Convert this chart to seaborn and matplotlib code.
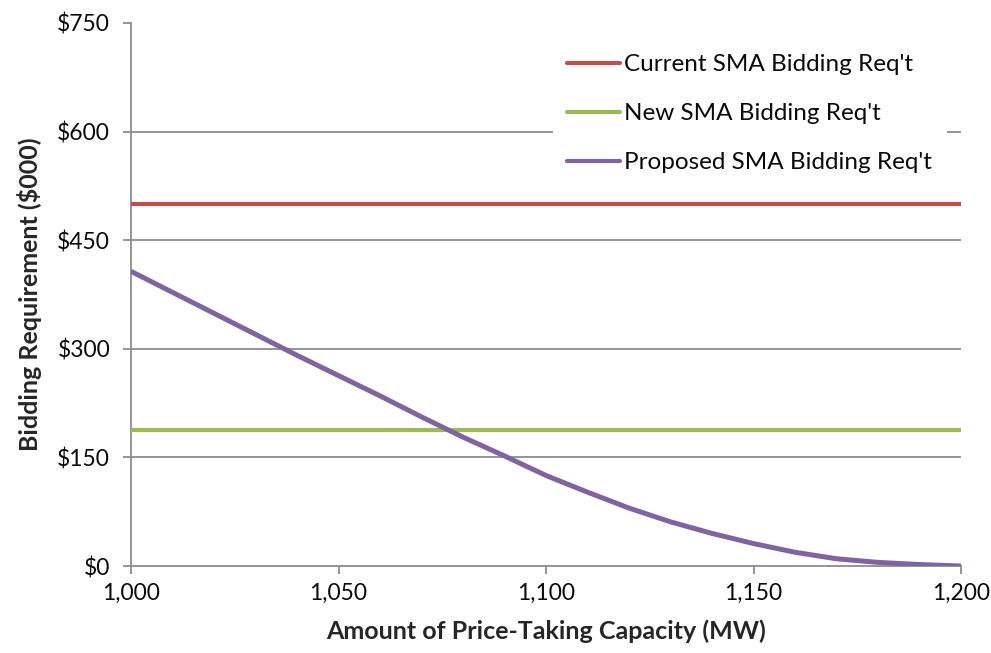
import matplotlib
matplotlib.use("Agg")
import matplotlib.pyplot as plt
import matplotlib.ticker as mticker
from matplotlib.patches import Rectangle
import seaborn as sns
import pandas as pd

# Price-taking capacity (MW) and bidding requirements ($000)
capacity = [1000, 1010, 1020, 1030, 1040, 1050, 1060, 1070, 1080, 1090, 1100,
            1110, 1120, 1130, 1140, 1150, 1160, 1170, 1180, 1190, 1200]
proposed_req = [407, 378, 349, 320, 291, 263, 235, 206, 178, 152, 125,
                102, 80, 61, 45, 31, 19, 10, 5, 2, 0]
current_req = 500
new_req = 188

series_names = ["Current SMA Bidding Req't", "New SMA Bidding Req't", "Proposed SMA Bidding Req't"]
series_colors = ["#C0504D", "#9BBB59", "#8064A2"]

x_ticks = [1000, 1050, 1100, 1150, 1200]
y_ticks = [0, 150, 300, 450, 600, 750]

df = pd.concat([
    pd.DataFrame({"capacity": capacity, "value": [current_req] * len(capacity), "series": series_names[0]}),
    pd.DataFrame({"capacity": capacity, "value": [new_req] * len(capacity), "series": series_names[1]}),
    pd.DataFrame({"capacity": capacity, "value": proposed_req, "series": series_names[2]}),
])

sns.set_style("white")
plt.rcParams["font.family"] = ["Lato", "DejaVu Sans"]

W, H = 991, 653
fig = plt.figure(figsize=(W / 100, H / 100), dpi=100)
ax = fig.add_axes([131 / W, 1 - 566 / H, 830 / W, 543 / H])

grid_c = "#8C8C8C"
for y in y_ticks[1:-1]:
    ax.axhline(y, color=grid_c, lw=1.3, zorder=0)

sns.lineplot(data=df, x="capacity", y="value", hue="series", hue_order=series_names,
             palette=series_colors, ax=ax, legend=False, zorder=3)
widths = [3.0, 3.0, 3.6]
for line, w in zip(ax.get_lines()[-3:], widths):
    line.set_linewidth(w)
    line.set_solid_capstyle("butt")

ax.set_xlim(1000, 1200)
ax.set_ylim(0, 750)
ax.set_xticks(x_ticks)
ax.set_yticks(y_ticks)
ax.xaxis.set_major_formatter(mticker.FuncFormatter(lambda v, p: f"{v:,.0f}"))
ax.yaxis.set_major_formatter(mticker.FuncFormatter(lambda v, p: f"${v:,.0f}"))

for s in ["top", "right"]:
    ax.spines[s].set_visible(False)
for s in ["left", "bottom"]:
    ax.spines[s].set_color(grid_c)
    ax.spines[s].set_linewidth(1.3)

ax.tick_params(axis="both", which="major", direction="out", length=6, width=1.3,
               color=grid_c, labelsize=16.5, labelcolor="#0A0A0A")
ax.tick_params(axis="x", bottom=True, pad=6)
ax.tick_params(axis="y", left=True, pad=9)

ax.set_xlabel("Amount of Price-Taking Capacity (MW)", fontsize=18, fontweight="bold")
ax.set_ylabel("Bidding Requirement ($000)", fontsize=18, fontweight="bold")
ax.xaxis.set_label_coords(0.5, -0.098)
ax.yaxis.set_label_coords(-0.107, 0.5)

# white panel behind the legend, hiding the gridline it overlaps
ax.add_patch(Rectangle((553 / W, 1 - 188 / H), 394 / W, 150 / H, transform=fig.transFigure,
                       facecolor="white", edgecolor="none", zorder=4, clip_on=False))

handles = [plt.Line2D([], [], color=c, lw=3.0) for c in series_colors]
leg = ax.legend(handles, series_names, loc="upper left",
                bbox_to_anchor=(553 / W, 1 - 40 / H), bbox_transform=fig.transFigure,
                frameon=False, fontsize=17.5, handlelength=2.18, handletextpad=0.16,
                labelspacing=1.15, borderpad=0.58, borderaxespad=0)
for t in leg.get_texts():
    t.set_color("#0A0A0A")
leg.set_zorder(5)

fig.savefig("out.png", dpi=100, facecolor="white")
